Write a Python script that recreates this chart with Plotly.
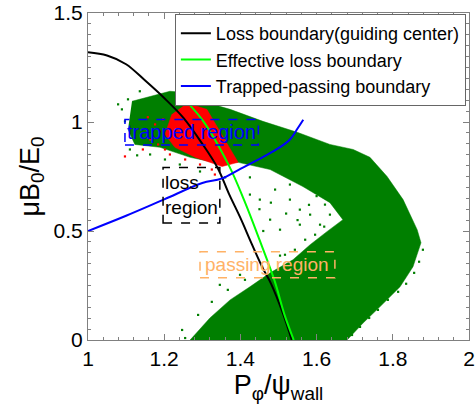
import plotly.graph_objects as go

# ---- data ----
loss_x = [1.0, 1.05, 1.10, 1.15, 1.20, 1.25, 1.30, 1.34, 1.37, 1.40, 1.43, 1.46, 1.48, 1.51, 1.535]
loss_y = [1.32, 1.305, 1.265, 1.19, 1.11, 1.02, 0.90, 0.79, 0.67, 0.56, 0.44, 0.325, 0.26, 0.13, 0.0]

eff_x = [1.234, 1.30, 1.37, 1.41, 1.45, 1.49, 1.515, 1.54]
eff_y = [1.137, 1.01, 0.80, 0.64, 0.46, 0.27, 0.12, 0.0]

tp_x = [1.0, 1.1, 1.2, 1.3, 1.35, 1.40, 1.46, 1.50, 1.53, 1.55, 1.565]
tp_y = [0.5, 0.57, 0.645, 0.72, 0.74, 0.785, 0.84, 0.88, 0.92, 0.97, 1.01]

# outline of the dense green particle cloud
green_x = [1.1155, 1.163, 1.215, 1.255, 1.281, 1.373, 1.459, 1.549, 1.635, 1.696, 1.740, 1.785, 1.827,
           1.864, 1.874, 1.853, 1.819, 1.766, 1.722, 1.680, 1.268, 1.320, 1.373, 1.425, 1.478,
           1.538, 1.583, 1.627, 1.669, 1.635, 1.564, 1.478, 1.394, 1.320, 1.268, 1.189, 1.123, 1.105]
green_y = [1.095, 1.118, 1.141, 1.135, 1.104, 1.058, 1.003, 0.953, 0.897, 0.874, 0.838, 0.750, 0.644,
           0.506, 0.446, 0.336, 0.244, 0.152, 0.078, 0.0, 0.0, 0.101, 0.184, 0.244, 0.308,
           0.368, 0.437, 0.497, 0.552, 0.630, 0.704, 0.782, 0.815, 0.819, 0.838, 0.884, 0.897, 0.966]

# scattered green particles near the cloud edges
gs_x = [1.136, 1.105, 1.089, 1.079, 1.097, 1.110, 1.129, 1.163, 1.202, 1.241, 1.294, 1.360, 1.425,
        1.530, 1.556, 1.583, 1.609, 1.596, 1.570, 1.543, 1.517, 1.556, 1.635, 1.622, 1.504, 1.478,
        1.451, 1.425, 1.491, 1.530, 1.45, 1.48, 1.60, 1.58, 1.52, 1.46, 1.55, 1.62,
        1.247, 1.289, 1.325, 1.367, 1.412, 1.457, 1.504, 1.346, 1.399, 1.255,
        1.879, 1.869, 1.856, 1.835, 1.814, 1.787, 1.761, 1.738, 1.714, 1.693]
gs_y = [1.141, 1.104, 1.058, 1.081, 1.003, 0.874, 0.847, 0.851, 0.828, 0.805, 0.773, 0.746, 0.746,
        0.644, 0.598, 0.575, 0.529, 0.483, 0.460, 0.414, 0.391, 0.529, 0.575, 0.621, 0.506, 0.552,
        0.644, 0.667, 0.690, 0.713, 0.60, 0.63, 0.66, 0.62, 0.58, 0.50, 0.55, 0.52,
        0.046, 0.115, 0.175, 0.230, 0.276, 0.336, 0.387, 0.253, 0.299, 0.009,
        0.414, 0.359, 0.308, 0.258, 0.221, 0.184, 0.138, 0.101, 0.060, 0.023]

# outline of the red (lost) particle region
red_x = [1.260, 1.312, 1.394, 1.352, 1.281, 1.228, 1.202, 1.220]
red_y = [1.086, 1.058, 0.815, 0.796, 0.838, 0.884, 0.943, 1.035]

rs_x = [1.176, 1.189, 1.163, 1.184, 1.202, 1.215, 1.255, 1.294, 1.325, 1.157, 1.144, 1.097, 1.197, 1.333]
rs_y = [0.989, 0.957, 0.920, 0.897, 0.874, 0.851, 0.828, 0.805, 0.782, 1.022, 0.874, 0.842, 1.012, 0.759]

FONT = "Liberation Sans, Arial, sans-serif"

fig = go.Figure()
fig.add_trace(go.Scatter(x=green_x, y=green_y, fill="toself", mode="lines",
                         line=dict(color="#007F00", width=0.5), fillcolor="#007F00",
                         showlegend=False, hoverinfo="skip"))
fig.add_trace(go.Scatter(x=gs_x, y=gs_y, mode="markers",
                         marker=dict(symbol="square", size=2.2, color="#007F00"),
                         showlegend=False))
fig.add_trace(go.Scatter(x=red_x, y=red_y, fill="toself", mode="lines",
                         line=dict(color="#FF0000", width=0.5), fillcolor="#FF0000",
                         showlegend=False, hoverinfo="skip"))
fig.add_trace(go.Scatter(x=rs_x, y=rs_y, mode="markers",
                         marker=dict(symbol="square", size=2.2, color="#FF0000"),
                         showlegend=False))
fig.add_trace(go.Scatter(x=loss_x, y=loss_y, mode="lines", line=dict(color="black", width=2, shape="spline"),
                         name="Loss boundary(guiding center)"))
fig.add_trace(go.Scatter(x=eff_x, y=eff_y, mode="lines", line=dict(color="#00FF00", width=2, shape="spline"),
                         name="Effective loss boundary"))
fig.add_trace(go.Scatter(x=tp_x, y=tp_y, mode="lines", line=dict(color="#0000FF", width=2, shape="spline"),
                         name="Trapped-passing boundary"))

# region labels with dashed boxes
boxes = [
    dict(x0=1.097, x1=1.447, y0=0.894, y1=1.012, color="#0000FF"),
    dict(x0=1.197, x1=1.346, y0=0.537, y1=0.791, color="black"),
    dict(x0=1.294, x1=1.648, y0=0.285, y1=0.405, color="#FFB266"),
]
for b in boxes:
    fig.add_shape(type="rect", xref="x", yref="y", x0=b["x0"], x1=b["x1"], y0=b["y0"], y1=b["y1"],
                  line=dict(color=b["color"], width=1.5, dash="dash"))

fig.add_annotation(x=1.272, y=0.953, text="trapped region", showarrow=False,
                   font=dict(family=FONT, size=20, color="#0000FF"))
fig.add_annotation(x=1.271, y=0.664, text="loss<br>region", showarrow=False, align="left",
                   font=dict(family=FONT, size=19, color="black"))
fig.add_annotation(x=1.471, y=0.345, text="passing region", showarrow=False,
                   font=dict(family=FONT, size=19, color="#FFB266"))

axis_common = dict(showline=True, mirror="ticks", linecolor="#808080", linewidth=1,
                   ticks="inside", ticklen=6, tickcolor="#808080", showgrid=False, zeroline=False,
                   automargin=False, ticklabeloverflow="allow",
                   tickfont=dict(family=FONT, size=21, color="black"))

fig.update_xaxes(range=[1, 2], dtick=0.2, tick0=1,
                 minor=dict(ticks="inside", ticklen=3, dtick=0.04, tickcolor="#808080"),
                 title=dict(text="P<sub>φ</sub>/ψ<sub>wall</sub>", standoff=4,
                            font=dict(family=FONT, size=27, color="black")),
                 **axis_common)
fig.update_yaxes(range=[0, 1.5], dtick=0.5, tick0=0,
                 minor=dict(ticks="inside", ticklen=3, dtick=0.05, tickcolor="#808080"),
                 title=dict(text="μB<sub>0</sub>/E<sub>0</sub>", standoff=6,
                            font=dict(family=FONT, size=27, color="black")),
                 **axis_common)

fig.update_layout(
    width=475, height=414,
    margin=dict(l=88, r=6, t=13, b=74, autoexpand=False),
    paper_bgcolor="white", plot_bgcolor="white",
    font=dict(family=FONT, color="black"),
    legend=dict(x=0.228, y=0.997, xanchor="left", yanchor="top",
                bgcolor="white", bordercolor="#666666", borderwidth=1,
                font=dict(family=FONT, size=18, color="black"),
                tracegroupgap=0, itemwidth=30),
    showlegend=True,
)

# remove the default page margin so the figure fills the window exactly
fig.write_html("out.html", config={"displayModeBar": False},
               post_script="document.body.style.margin='0';")
